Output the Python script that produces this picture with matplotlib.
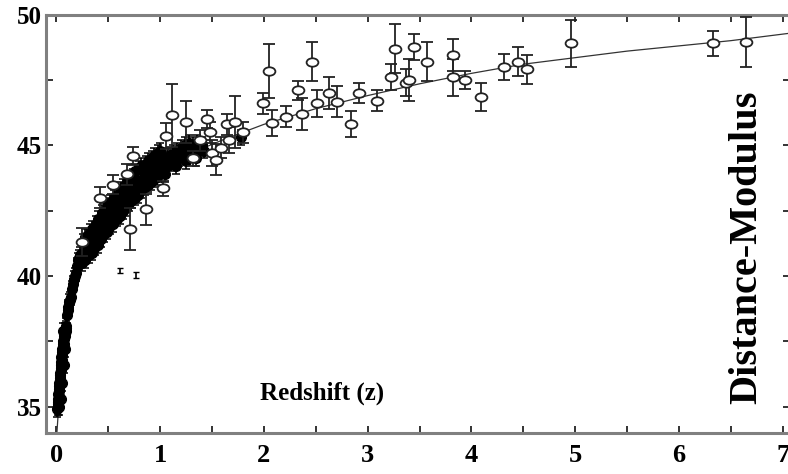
import matplotlib.pyplot as plt
from matplotlib.path import Path
from matplotlib.markers import MarkerStyle
from matplotlib.transforms import Affine2D
from matplotlib.ticker import MultipleLocator

# Hubble diagram: supernovas (relleno) + GRB (abiertos) + modelo
# curva del modelo
model_z = [0.005, 0.02, 0.03, 0.05, 0.07, 0.1, 0.15, 0.2, 0.3, 0.4, 0.5, 0.7,
           1.0, 1.3, 1.6, 2.0, 2.5, 3.0, 3.5, 4.0, 4.5, 5.0, 5.5, 6.0, 6.5, 7.1]
model_mu = [34.0, 34.9, 35.6, 36.7, 37.5, 38.3, 39.2, 39.9, 40.9, 41.6, 42.2, 43.1,
            44.0, 44.7, 45.2, 45.8, 46.4, 46.9, 47.35, 47.75, 48.1, 48.35, 48.6, 48.8, 49.0, 49.3]

# supernovas (puntos rellenos)
sn_z = [0.010, 0.012, 0.014, 0.016, 0.018, 0.020, 0.022, 0.024, 0.026, 0.028, 0.030, 0.032,
        0.034, 0.036, 0.038, 0.040, 0.042, 0.044, 0.046, 0.048, 0.050, 0.053, 0.056, 0.059,
        0.062, 0.065, 0.068, 0.071, 0.074, 0.077, 0.080, 0.083, 0.086, 0.089, 0.092, 0.095,
        0.040, 0.055, 0.070, 0.085, 0.030, 0.065,
        0.105, 0.110, 0.115, 0.125, 0.130, 0.140, 0.150, 0.160, 0.170, 0.180, 0.190, 0.200,
        0.210, 0.220, 0.230,
        0.25, 0.25, 0.26, 0.28, 0.29, 0.28, 0.31, 0.31, 0.32, 0.34, 0.35, 0.34, 0.37, 0.37, 0.38,
        0.40, 0.41, 0.40, 0.43, 0.43, 0.44, 0.46, 0.47, 0.46, 0.49, 0.49, 0.50, 0.52, 0.53, 0.52,
        0.55, 0.55, 0.56, 0.58, 0.59, 0.58, 0.61, 0.61, 0.62, 0.64, 0.65, 0.64, 0.67, 0.67, 0.68,
        0.70, 0.71, 0.70, 0.73, 0.73, 0.74, 0.76, 0.77, 0.76, 0.79, 0.79, 0.80, 0.82, 0.83, 0.82,
        0.85, 0.85, 0.86, 0.88, 0.89, 0.88, 0.91, 0.91, 0.92, 0.94, 0.95, 0.94, 0.97, 0.97, 0.98,
        1.00, 1.01, 1.00,
        1.02, 1.04, 1.06, 1.08, 1.10, 1.12, 1.14, 1.16, 1.18, 1.20, 1.22, 1.24, 1.26, 1.28,
        1.30, 1.32, 1.34, 1.36, 1.38, 1.40, 1.42, 1.05, 1.15, 1.25, 1.35, 1.78]
sn_mu = [34.9, 35.1, 35.0, 35.3, 35.2, 35.5, 35.4, 35.7, 35.6, 35.9, 35.8, 36.1,
         36.0, 36.3, 36.2, 36.5, 36.4, 36.7, 36.6, 36.9, 36.8, 37.0, 37.2, 37.1,
         37.3, 37.4, 37.5, 37.4, 37.6, 37.7, 37.8, 37.7, 37.9, 38.0, 37.9, 38.1,
         35.3, 35.9, 36.6, 37.2, 35.0, 37.9,
         38.5, 38.7, 38.8, 39.0, 39.1, 39.2, 39.5, 39.7, 39.9, 40.0, 40.1, 40.4,
         40.6, 40.7, 40.8,
         40.5, 40.9, 41.3, 40.6, 41.1, 41.5, 40.8, 41.2, 41.7, 40.9, 41.4, 41.8, 41.1, 41.5, 42.0,
         41.2, 41.7, 42.2, 41.4, 41.9, 42.4, 41.6, 42.0, 42.5, 41.7, 42.2, 42.7, 41.9, 42.3, 42.8,
         42.0, 42.5, 43.0, 42.2, 42.7, 43.1, 42.3, 42.8, 43.3, 42.5, 42.9, 43.4, 42.6, 43.1, 43.6,
         42.8, 43.2, 43.7, 42.9, 43.4, 43.8, 43.0, 43.5, 44.0, 43.1, 43.6, 44.1, 43.3, 43.7, 44.2,
         43.4, 43.9, 44.3, 43.5, 43.9, 44.4, 43.6, 44.0, 44.5, 43.7, 44.2, 44.6, 43.8, 44.2, 44.7,
         43.9, 44.4, 44.8,
         44.1, 44.5, 44.2, 44.6, 44.3, 44.7, 44.4, 44.8, 44.5, 44.9, 44.6, 45.0, 44.7, 45.1,
         44.8, 45.0, 44.7, 45.1, 44.9, 45.0, 44.8, 43.9, 44.2, 44.4, 44.5, 45.3]
sn_err = 0.3

# GRB (circulos abiertos)
grb_z = [0.25, 0.42, 0.55, 0.68, 0.71, 0.74, 0.86, 1.03, 1.06, 1.11, 1.25, 1.32, 1.38,
         1.45, 1.48, 1.50, 1.54, 1.59, 1.64, 1.66, 1.72, 1.80,
         1.99, 2.05, 2.08, 2.21, 2.33, 2.37, 2.46, 2.51, 2.63, 2.70, 2.84, 2.92,
         3.09, 3.22, 3.26, 3.37, 3.40, 3.45, 3.57, 3.82, 3.82, 3.94, 4.09,
         4.31, 4.45, 4.54, 4.96, 6.33, 6.65]
grb_mu = [41.3, 43.0, 43.5, 43.9, 41.8, 44.6, 42.55, 43.35, 45.35, 46.15, 45.9, 44.5, 45.2,
          46.0, 45.5, 44.7, 44.45, 44.9, 45.8, 45.2, 45.9, 45.5,
          46.6, 47.84, 45.86, 46.1, 47.1, 46.2, 48.2, 46.6, 47.0, 46.67, 45.8, 47.0,
          46.7, 47.6, 48.7, 47.4, 47.5, 48.77, 48.2, 48.45, 47.6, 47.5, 46.85,
          48.0, 48.2, 47.9, 48.9, 48.9, 48.96]
grb_err = [0.55, 0.4, 0.35, 0.4, 0.8, 0.35, 0.6, 0.3, 0.5, 1.2, 0.8, 0.3, 0.4,
           0.35, 0.4, 0.5, 0.6, 0.4, 0.4, 0.5, 1.0, 0.4,
           0.4, 1.05, 0.5, 0.4, 0.35, 0.6, 0.75, 0.5, 0.6, 0.6, 0.5, 0.4,
           0.4, 0.5, 0.95, 0.5, 0.8, 0.5, 0.75, 0.6, 0.7, 0.35, 0.55,
           0.5, 0.55, 0.55, 0.9, 0.47, 0.95]

# marcas sueltas cerca de mu=40
stray_z = [0.61, 0.77]
stray_mu = [40.2, 40.05]
stray_err = [0.1, 0.12]

plt.rcParams['font.family'] = ['Liberation Serif', 'DejaVu Serif']
plt.rcParams['font.weight'] = 'bold'

fig = plt.figure(figsize=(7.88, 4.74), dpi=100)
ax = fig.add_axes([46 / 788, 41 / 474, 744 / 788, 418.5 / 474])

ax.plot(model_z, model_mu, color='#333333', lw=0.9, zorder=2)

ax.errorbar(sn_z, sn_mu, yerr=sn_err, fmt='o', color='black', ms=7,
            mfc='black', mec='black', elinewidth=1.2, capsize=3, capthick=1.1, zorder=3)

oval = MarkerStyle(Path.unit_circle().transformed(Affine2D().scale(1.4, 1.0)))
ax.errorbar(grb_z, grb_mu, yerr=grb_err, fmt='none', ecolor='#222222',
            elinewidth=1.3, capsize=4.5, capthick=1.3, zorder=4)
ax.plot(grb_z, grb_mu, linestyle='none', marker=oval, ms=8.5, mfc='white',
        mec='#222222', mew=1.3, zorder=5)

ax.errorbar(stray_z, stray_mu, yerr=stray_err, fmt='none', ecolor='black',
            elinewidth=1.2, capsize=2, zorder=3)

ax.set_xlim(-0.1, 7.07)
ax.set_ylim(34, 50)
ax.xaxis.set_major_locator(MultipleLocator(1))
ax.xaxis.set_minor_locator(MultipleLocator(0.5))
ax.yaxis.set_major_locator(MultipleLocator(5))
ax.yaxis.set_minor_locator(MultipleLocator(2.5))

ax.tick_params(which='both', direction='in', top=True, right=True,
               length=5, width=1.4, color='#333333')
ax.tick_params(axis='x', labelsize=19, pad=8)
ax.tick_params(axis='y', labelsize=18, pad=3)

for s in ax.spines.values():
    s.set_color('#808080')
    s.set_linewidth(2.2)

ax.text(0.371, 0.096, 'Redshift (z)', transform=ax.transAxes, fontsize=18,
        fontweight='bold', ha='center', va='center')
ax.text(0.942, 0.444, 'Distance-Modulus', transform=ax.transAxes, fontsize=29,
        fontweight='bold', rotation=90, ha='center', va='center')

plt.savefig('out.png', dpi=100)
